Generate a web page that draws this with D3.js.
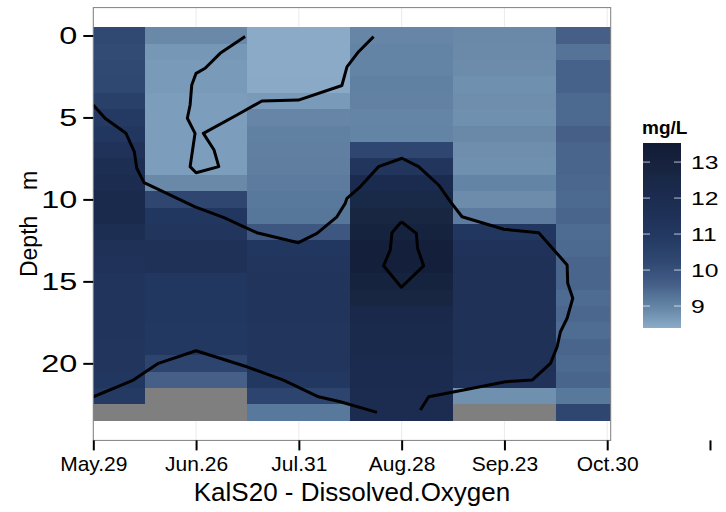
<!DOCTYPE html>
<html>
<head>
<meta charset="utf-8">
<script src="https://cdn.jsdelivr.net/npm/d3@7"></script>
<style>
  body { margin: 0; background: #fff; }
  text { font-family: "Liberation Sans", Arial, sans-serif; }
</style>
</head>
<body>
<svg id="chart"></svg>
<script>
// sampling dates (x categories) and depths (m)
const dates = [ 'May.29', 'Jun.26', 'Jul.31', 'Aug.28', 'Sep.23', 'Oct.30' ];
const depths = [ 0, 1, 2, 3, 4, 5, 6, 7, 8, 9, 10, 11, 12, 13, 14, 15, 16, 17, 18, 19, 20, 21, 22, 23 ];

// dissolved oxygen, mg/L, one value per depth (null = no data)
const may29 = [ 10.2, 10.15, 10.2, 10.25, 10.6, 10.9, 11.1, 11.4, 11.8, 12.0, 12.2, 12.2, 11.8, 11.5, 11.4, 11.3, 11.3, 11.3, 11.3, 11.2, 11.2, 11.1, 10.9, null ];
const jun26 = [ 8.9, 8.7, 8.65, 8.65, 8.6, 8.6, 8.6, 8.6, 8.6, 8.9, 10.3, 11.1, 11.2, 11.5, 11.5, 11.1, 11.1, 11.1, 11.0, 11.0, 10.4, 9.6, null, null ];
const jul31 = [ 8.4, 8.4, 8.4, 8.42, 8.65, 8.95, 9.05, 9.08, 9.1, 9.15, 9.2, 9.25, 9.8, 11.1, 11.2, 11.3, 11.3, 11.3, 11.2, 11.2, 11.2, 11.0, 10.4, 9.2 ];
const aug28 = [ 8.95, 9.0, 9.0, 9.05, 9.03, 8.98, 9.0, 10.3, 11.2, 12.1, 12.4, 12.7, 12.95, 13.2, 13.2, 12.95, 12.7, 12.3, 12.2, 12.2, 12.1, 12.1, 12.0, 12.0 ];
const sep23 = [ 8.9, 8.88, 8.85, 8.8, 8.82, 8.8, 8.9, 8.82, 8.8, 9.0, 8.85, 9.15, 11.1, 11.4, 11.5, 11.5, 11.5, 11.5, 11.5, 11.5, 11.5, 11.4, 8.8, null ];
const oct30 = [ 9.6, 9.3, 9.55, 9.55, 9.45, 9.45, 9.6, 9.5, 9.5, 9.48, 9.45, 9.5, 9.42, 9.45, 9.5, 9.5, 9.42, 9.48, 9.4, 9.5, 9.45, 9.5, 9.2, 10.3 ];

const legendTicks = [ 9, 10, 11, 12, 13 ];
const valueRange = [ 8.39, 13.53 ];

// contour lines: [date position (1 = May.29), depth]
const contourA = [ [2.477,0.07],[2.234,1.09],[2.088,2.00],[2.000,2.31],[1.958,3.02],[1.942,4.24],[1.915,5.05],[1.990,5.97],[1.942,8.00],[2.000,8.37],[2.221,8.00],[2.175,6.99],[2.071,5.97],[2.397,4.85],[2.640,4.00],[2.996,3.94],[3.419,3.05],[3.468,1.92],[3.581,0.99],[3.727,0.07] ];
const contourB = [ [1.000,4.24],[1.114,5.05],[1.318,5.97],[1.399,7.09],[1.423,8.10],[1.494,8.98],[1.715,9.63],[1.990,10.45],[2.266,11.10],[2.591,12.03],[2.996,12.64],[3.176,12.07],[3.370,11.06],[3.451,10.24],[3.468,9.93],[3.597,9.23],[3.776,8.00],[4.003,7.49],[4.165,8.00],[4.360,9.12],[4.474,10.14],[4.588,11.06],[4.993,11.82],[5.334,12.03],[5.610,14.00],[5.616,15.12],[5.665,16.03],[5.610,17.25],[5.545,18.07],[5.513,18.99],[5.448,20.00],[5.270,21.02],[5.010,21.12],[4.603,21.63],[4.263,22.04],[4.182,22.85] ];
const contourC = [ [1.000,22.04],[1.390,21.02],[1.633,20.00],[2.000,19.23],[2.494,20.21],[2.850,21.02],[3.191,22.04],[3.403,22.34],[3.760,22.99] ];
const contourD = [ [3.997,11.36],[4.143,12.07],[4.155,12.98],[4.214,14.05],[3.997,15.36],[3.824,14.05],[3.889,13.09],[3.906,12.03],[3.997,11.36] ];

class DepthHeatmap {
    constructor( config ){
        this.config = {
            parent: config.parent,
            width: config.width || 726,
            height: config.height || 512,
            panel: config.panel
        };
        this.init();
    }

    init() {
        let self = this;
        let p = self.config.panel;

        self.svg = d3.select( self.config.parent )
            .attr( 'width', self.config.width )
            .attr( 'height', self.config.height );

        self.xscale = d3.scaleLinear()
            .domain( [ 1, 6.034 ] )
            .range( [ p.left, p.right ] );

        self.yscale = d3.scaleLinear()
            .domain( [ -1.7, 24.7 ] )
            .range( [ p.top, p.bottom ] );

        self.cscale = d3.scaleLinear()
            .domain( [ 8.39, 8.65, 8.9, 9.25, 9.6, 10.0, 10.3, 10.9, 11.5, 12.1, 12.6, 13.0, 13.53 ] )
            .range( [ '#8babc9', '#7a9aba', '#6a89a9', '#56769a', '#455f87', '#35507a', '#2e4670', '#243a63', '#1f3157', '#1b2b4f', '#182744', '#16223e', '#121b36' ] )
            .interpolate( d3.interpolateLab );

        self.svg.append( 'clipPath' ).attr( 'id', 'panel-clip' )
            .append( 'rect' )
            .attr( 'x', p.left ).attr( 'y', p.top )
            .attr( 'width', p.right - p.left ).attr( 'height', p.bottom - p.top );

        self.line = d3.line()
            .x( d => self.xscale( d[0] ) )
            .y( d => self.yscale( d[1] ) );
    }

    render() {
        let self = this;
        let p = self.config.panel;
        let series = [ may29, jun26, jul31, aug28, sep23, oct30 ];
        let cells = [];
        series.forEach( ( vals, i ) => {
            depths.forEach( ( dep, j ) => cells.push( { pos: i + 1, depth: dep, value: vals[j] } ) );
        });

        // grid lines
        self.svg.append( 'g' ).selectAll( 'line' )
            .data( [ 1, 2, 3, 4, 5, 6 ] )
            .join( 'line' )
            .attr( 'x1', d => self.xscale( d ) ).attr( 'x2', d => self.xscale( d ) )
            .attr( 'y1', p.top ).attr( 'y2', p.bottom )
            .attr( 'stroke', '#ebebeb' ).attr( 'stroke-width', 1 );

        let panel = self.svg.append( 'g' ).attr( 'clip-path', 'url(#panel-clip)' );

        panel.append( 'g' ).selectAll( 'rect' )
            .data( cells )
            .join( 'rect' )
            .attr( 'x', d => self.xscale( d.pos - 0.5 ) )
            .attr( 'y', d => self.yscale( d.depth - 0.5 ) )
            .attr( 'width', d => self.xscale( d.pos + 0.5 ) - self.xscale( d.pos - 0.5 ) + 0.5 )
            .attr( 'height', d => self.yscale( d.depth + 0.5 ) - self.yscale( d.depth - 0.5 ) + 0.5 )
            .attr( 'fill', d => d.value == null ? '#7f7f7f' : self.cscale( d.value ) )
            .attr( 'shape-rendering', 'crispEdges' );

        panel.append( 'g' ).selectAll( 'path' )
            .data( [ contourA, contourB, contourC, contourD ] )
            .join( 'path' )
            .attr( 'd', d => self.line( d ) )
            .attr( 'fill', 'none' )
            .attr( 'stroke', '#000' )
            .attr( 'stroke-width', 3 )
            .attr( 'stroke-linejoin', 'round' );

        // panel border
        self.svg.append( 'rect' )
            .attr( 'x', p.left ).attr( 'y', p.top )
            .attr( 'width', p.right - p.left ).attr( 'height', p.bottom - p.top )
            .attr( 'fill', 'none' ).attr( 'stroke', '#7f7f7f' ).attr( 'stroke-width', 1 );

        // x axis (categorical positions, one extra unlabeled tick as in the original)
        let xaxis = d3.axisBottom( self.xscale )
            .tickValues( [ 1, 2, 3, 4, 5, 6, 7 ] )
            .tickFormat( d => dates[ d - 1 ] || '' )
            .tickSize( 10 ).tickPadding( 6 );
        let xg = self.svg.append( 'g' )
            .attr( 'transform', `translate(0, ${p.bottom})` )
            .call( xaxis );
        xg.select( '.domain' ).remove();
        xg.selectAll( '.tick line' ).attr( 'stroke', '#000' ).attr( 'stroke-width', 2 );
        xg.selectAll( '.tick text' )
            .attr( 'font-size', 21 ).attr( 'fill', '#000' )
            .attr( 'font-family', '"Liberation Sans", Arial, sans-serif' );

        // y axis
        let yaxis = d3.axisLeft( self.yscale )
            .tickValues( [ 0, 5, 10, 15, 20 ] )
            .tickSize( 10 ).tickPadding( 6 );
        let yg = self.svg.append( 'g' )
            .attr( 'transform', `translate(${p.left}, 0)` )
            .call( yaxis );
        yg.select( '.domain' ).remove();
        yg.selectAll( '.tick line' ).attr( 'stroke', '#000' ).attr( 'stroke-width', 2 );
        yg.selectAll( '.tick text' )
            .attr( 'font-size', 24 ).attr( 'fill', '#000' )
            .attr( 'x', -16 / 1.35 )
            .attr( 'transform', 'scale(1.35,1)' )
            .attr( 'font-family', '"Liberation Sans", Arial, sans-serif' );

        // axis titles
        self.svg.append( 'text' )
            .attr( 'x', ( p.left + p.right ) / 2 ).attr( 'y', 501 )
            .attr( 'text-anchor', 'middle' ).attr( 'font-size', 26 )
            .text( 'KalS20 - Dissolved.Oxygen' );

        self.svg.append( 'text' )
            .attr( 'transform', `translate(37, ${( p.top + p.bottom ) / 2}) rotate(-90)` )
            .attr( 'text-anchor', 'middle' ).attr( 'font-size', 23 )
            .style( 'white-space', 'pre' )
            .text( 'Depth    m' );

        self.renderLegend();
    }

    renderLegend() {
        let self = this;
        let lx = 643, lw = 38;
        let lscale = d3.scaleLinear().domain( valueRange ).range( [ 328, 143 ] );

        let grad = self.svg.append( 'defs' ).append( 'linearGradient' )
            .attr( 'id', 'do-grad' )
            .attr( 'x1', 0 ).attr( 'y1', 1 ).attr( 'x2', 0 ).attr( 'y2', 0 );
        grad.selectAll( 'stop' )
            .data( d3.ticks( valueRange[0], valueRange[1], 40 ).concat( valueRange ).sort( d3.ascending ) )
            .join( 'stop' )
            .attr( 'offset', d => ( d - valueRange[0] ) / ( valueRange[1] - valueRange[0] ) )
            .attr( 'stop-color', d => self.cscale( d ) );

        self.svg.append( 'rect' )
            .attr( 'x', lx ).attr( 'y', lscale( valueRange[1] ) )
            .attr( 'width', lw ).attr( 'height', lscale( valueRange[0] ) - lscale( valueRange[1] ) )
            .attr( 'fill', 'url(#do-grad)' );

        let ticks = self.svg.append( 'g' ).selectAll( 'g' )
            .data( legendTicks )
            .join( 'g' )
            .attr( 'transform', d => `translate(0, ${lscale( d )})` );
        ticks.append( 'line' )
            .attr( 'x1', lx ).attr( 'x2', lx + 7 )
            .attr( 'stroke', '#ffffff' ).attr( 'stroke-opacity', 0.7 );
        ticks.append( 'line' )
            .attr( 'x1', lx + lw - 7 ).attr( 'x2', lx + lw )
            .attr( 'stroke', '#ffffff' ).attr( 'stroke-opacity', 0.7 );
        ticks.append( 'text' )
            .attr( 'x', 691 / 1.3 ).attr( 'dy', '0.36em' )
            .attr( 'transform', 'scale(1.3,1)' )
            .attr( 'font-size', 19 )
            .text( d => d );

        self.svg.append( 'text' )
            .attr( 'x', 642 ).attr( 'y', 134 )
            .attr( 'font-size', 19 ).attr( 'font-weight', 'bold' )
            .text( 'mg/L' );
    }
}

let chart = new DepthHeatmap( {
    parent: '#chart',
    width: 726,
    height: 512,
    panel: { left: 93.3, right: 610.7, top: 7.6, bottom: 440.4 }
} );
chart.render();
</script>
</body>
</html>
